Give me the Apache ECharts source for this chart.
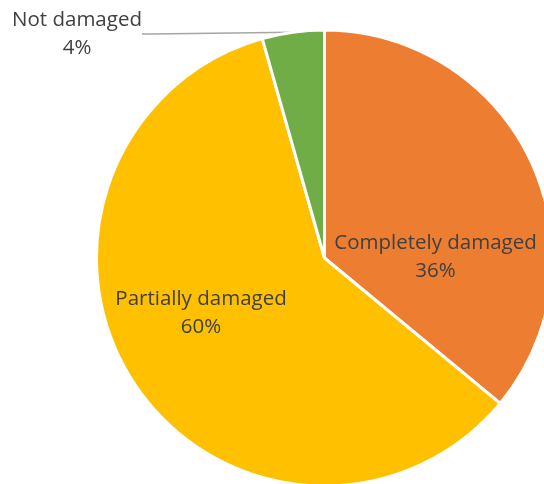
<!DOCTYPE html>
<html><head><meta charset="utf-8">
<script src="https://cdn.jsdelivr.net/npm/echarts@6/dist/echarts.min.js"></script>
<style>html,body{margin:0;padding:0;background:#fff}#c{width:544px;height:484px}</style>
</head><body><div id="c"></div>
<script>
const categories = ['Completely damaged', 'Partially damaged', 'Not damaged'];
const values = [36, 59.6, 4.4];
const colors = ['#ED7D31', '#FFC000', '#70AD47'];
const labelPos = [[435.5, 257], [201, 313], [77, 34]];

const chart = echarts.init(document.getElementById('c'), null, {renderer: 'canvas'});
chart.setOption({
  animation: false,
  series: [{
    type: 'pie',
    center: [324.5, 258],
    radius: 228,
    startAngle: 90,
    clockwise: true,
    avoidLabelOverlap: false,
    itemStyle: {borderColor: '#fff', borderWidth: 3},
    label: {
      show: true,
      position: 'inside',
      formatter: p => p.name + '\n' + p.percent.toFixed(0) + '%',
      color: '#404040',
      fontFamily: 'Open Sans',
      fontSize: 20.5,
      lineHeight: 28,
      align: 'center'
    },
    labelLine: {show: false},
    labelLayout: p => ({x: labelPos[p.dataIndex][0], y: labelPos[p.dataIndex][1], align: 'center', verticalAlign: 'middle'}),
    data: categories.map((n, i) => ({
      name: n, value: values[i], itemStyle: {color: colors[i]},
      label: i === 2 ? {position: 'outside'} : undefined,
      labelLine: i === 2 ? {show: true, length: 10, length2: 10, lineStyle: {color: '#A6A6A6', width: 1.5}} : undefined
    }))
  }]
});
</script></body></html>
